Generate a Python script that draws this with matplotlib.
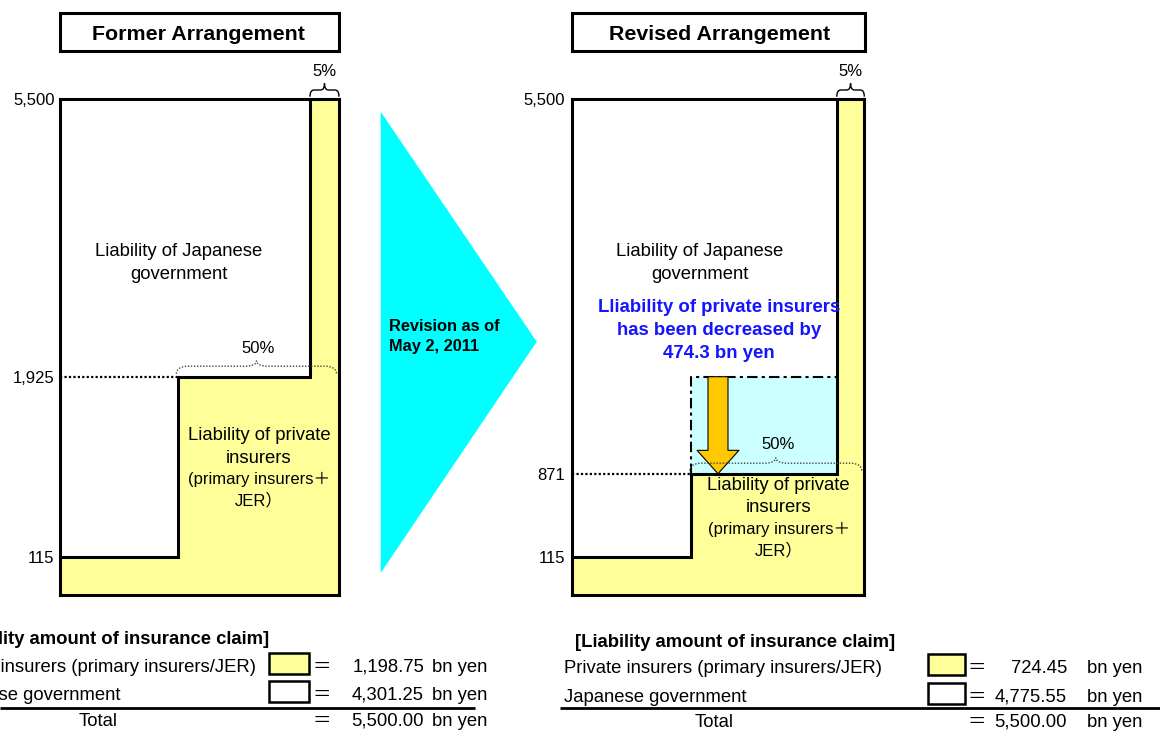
import numpy as np
import matplotlib
matplotlib.use("Agg")
import matplotlib.pyplot as plt
import matplotlib.transforms as mtrans
from matplotlib.patches import Rectangle, Polygon, PathPatch, FancyArrowPatch, ArrowStyle
from matplotlib.path import Path

# ---------------------------------------------------------------- data
panel_titles = ["Former Arrangement", "Revised Arrangement"]
total_limit = 5500                      # bn yen
former_levels = [115, 1925]             # claim thresholds (bn yen)
revised_levels = [115, 871]
private_shares = [1.00, 0.50, 0.05]     # private insurers' share in each band
share_labels = ["50%", "5%"]
legend_rows = ["Private insurers (primary insurers/JER)", "Japanese government"]
former_amounts = [1198.75, 4301.25]
revised_amounts = [724.45, 4775.55]
revision_note = ["Revision as of", "May 2, 2011"]
gov_label = ["Liability of Japanese", "government"]
private_label = ["Liability of private", "insurers"]
private_sub = ["(primary insurers\uff0b", "JER\uff09"]
table_title = "[Liability amount of insurance claim]"

# ---------------------------------------------------------------- style
YELLOW = "#FFFF99"
CYAN = "#00FFFF"
LIGHT_CYAN = "#CCFFFF"
ARROW = "#FFC800"
BLUE = "#1414FF"
FONT = ["Liberation Sans", "Noto Sans CJK JP", "DejaVu Sans"]
plt.rcParams["font.family"] = FONT

W, H = 1160, 731
fig = plt.figure(figsize=(W / 100, H / 100), dpi=100, facecolor="white")

# schematic (not to scale) placement of claim amounts and band boundaries
Y_VALUES = [0, 115, 871, 1925, 5500]
Y_POS = [0, 0.0778, 0.2452, 0.4407, 1.0]
U_VALUES = [0, 0.5, 0.95, 1.0]


def fwd_y(v):
    return np.interp(v, Y_VALUES, Y_POS)


def inv_y(p):
    return np.interp(p, Y_POS, Y_VALUES)


def make_panel(left_px, right_px, x_pos):
    top_px, bottom_px = 99.3, 595.3
    ax = fig.add_axes([left_px / W, (H - bottom_px) / H,
                       (right_px - left_px) / W, (bottom_px - top_px) / H])
    ax.set_xscale("function", functions=(lambda v: np.interp(v, U_VALUES, x_pos),
                                         lambda p: np.interp(p, x_pos, U_VALUES)))
    ax.set_yscale("function", functions=(fwd_y, inv_y))
    return ax


def draw_panel(ax, levels, pad):
    edges = [0] + list(levels) + [total_limit]
    u = [1 - s for s in private_shares]
    # private insurers' portion of each band
    for i, share in enumerate(private_shares):
        ax.barh(edges[i], share, left=u[i], height=edges[i + 1] - edges[i],
                align="edge", color=YELLOW, lw=0, zorder=1)
    # boundary between government and private liability
    pts = [(u[0], edges[1])]
    for i in range(1, len(u)):
        pts.append((u[i], edges[i]))
        pts.append((u[i], edges[i + 1]))
    xs, ys = zip(*pts)
    ax.plot(xs, ys, color="black", lw=2.2, solid_joinstyle="miter", zorder=3)
    ax.plot([0, u[1]], [edges[2], edges[2]], color="black", lw=1.6,
            ls=(0, (1, 1)), zorder=3)
    ax.set_xlim(0, 1)
    ax.set_ylim(0, total_limit)
    ticks = [edges[1], edges[2], total_limit]
    ax.set_yticks(ticks)
    ax.set_yticklabels([f"{t:,}" for t in ticks])
    ax.set_xticks([])
    ax.tick_params(axis="y", length=0, pad=pad, labelsize=12)
    for sp in ax.spines.values():
        sp.set_linewidth(2.2)
        sp.set_color("black")
        sp.set_zorder(5)
    ax.set_facecolor("white")
    return edges, u


ax_l = make_panel(60, 339, [0, 0.422, 0.896, 1.0])
ax_r = make_panel(571.7, 864.3, [0, 0.408, 0.906, 1.0])
edges_l, u_l = draw_panel(ax_l, former_levels, 4.0)
edges_r, u_r = draw_panel(ax_r, revised_levels, 4.8)

# band released from private insurers in the revised scheme
ax_r.fill_between([u_r[1], u_r[2]], revised_levels[1], former_levels[1],
                  color=LIGHT_CYAN, lw=0, zorder=0.5)
ax_r.plot([u_r[1], u_r[1], u_r[2]],
          [revised_levels[1], former_levels[1], former_levels[1]],
          color="black", lw=1.5, ls=(0, (5, 2, 1.5, 2)), zorder=3)
blend = mtrans.blended_transform_factory(ax_r.transAxes, ax_r.transData)
arrow = FancyArrowPatch((0.5, former_levels[1]), (0.5, revised_levels[1]),
                        transform=blend,
                        arrowstyle=ArrowStyle.Simple(head_length=16.8, head_width=30.2,
                                                     tail_width=14.4),
                        mutation_scale=1, shrinkA=0, shrinkB=0,
                        fc=ARROW, ec="black", lw=0.8, zorder=4)
ax_r.add_patch(arrow)

# ---------------------------------------------------------------- overlay (pixel units)
ov = fig.add_axes([0, 0, 1, 1], facecolor="none")
ov.set_xlim(0, W)
ov.set_ylim(H, 0)
ov.axis("off")


def px(ax, u, v):
    X, Y = ax.transData.transform((u, v))
    return X, H - Y


def brace(x0, x1, yb, yt, yp, r, **kw):
    xc = (x0 + x1) / 2
    verts = [(x0, yb), (x0, yt), (x0 + r, yt), (xc - r, yt), (xc, yt), (xc, yp),
             (xc, yt), (xc + r, yt), (x1 - r, yt), (x1, yt), (x1, yb)]
    codes = [Path.MOVETO, Path.CURVE3, Path.CURVE3, Path.LINETO, Path.CURVE3,
             Path.CURVE3, Path.CURVE3, Path.CURVE3, Path.LINETO, Path.CURVE3, Path.CURVE3]
    ov.add_patch(PathPatch(Path(verts, codes), fc="none", **kw))
    return xc


for ax, u, edges, dy50 in [(ax_l, u_l, edges_l, 7.4), (ax_r, u_r, edges_r, 8.3)]:
    # 5% brace above the top band
    x0, ytop = px(ax, u[2], total_limit)
    x1, _ = px(ax, 1.0, total_limit)
    yb = ytop - 2.6
    xc = brace(x0, x1, yb, yb - 6.7, yb - 13.4, 4, ec="black", lw=1.0)
    ov.text(xc, yb - 13.4 - 7.3, share_labels[1], ha="center", va="baseline", fontsize=12)
    # 50% brace above the middle band
    x0, ylev = px(ax, u[1], edges[2])
    x1, _ = px(ax, 1.0, edges[2])
    xc = brace(x0 - 1.3, x1 - 2.5, ylev - 3, ylev - 10.5, ylev - 16, 12,
               ec="#444444", lw=1.0, ls=(0, (1, 1.2)), zorder=4)
    ov.text(xc + 2, ylev - 16 - dy50, share_labels[0], ha="center", va="baseline",
            fontsize=12)

# panel titles
for (x0, x1, tx), title in zip([(59.8, 339.2, 198.9), (571.5, 865.2, 719.2)], panel_titles):
    ov.add_patch(Rectangle((x0, 13.2), x1 - x0, 37.6, fc="white", ec="black", lw=2.2))
    ov.text(tx, 39.5, title, ha="center", va="baseline", fontsize=15.4, fontweight="bold")

# revision arrow
ov.add_patch(Polygon([(380.7, 111.7), (380.7, 573), (536.7, 341.7)], closed=True,
                     fc=CYAN, ec="none"))
for yb, line in zip([330.7, 350.7], revision_note):
    ov.text(389.3, yb, line, ha="left", va="baseline", fontsize=11.8, fontweight="bold")

# area labels
for xc in (179, 700):
    for yb, line in zip([256, 279], gov_label):
        ov.text(xc, yb, line, ha="center", va="baseline", fontsize=13.3)
for xc, bases in [(259, [440, 462.7, 484, 505.7]), (778.7, [490, 511.7, 534, 555])]:
    for yb, line in zip(bases[:2], private_label):
        ov.text(xc, yb, line, ha="center", va="baseline", fontsize=13.3, zorder=6)
    for yb, line in zip(bases[2:], private_sub):
        ov.text(xc, yb, line, ha="center", va="baseline", fontsize=12, zorder=6)

reduction = former_amounts[0] - revised_amounts[0]
blue_lines = ["Lliability of private insurers", "has been decreased by",
              f"{reduction:.1f} bn yen"]
for yb, line in zip([312.3, 335, 358.3], blue_lines):
    ov.text(719, yb, line, ha="center", va="baseline", fontsize=13.4,
            fontweight="bold", color=BLUE)

# ---------------------------------------------------------------- summary tables
tables = [
    dict(amounts=former_amounts, title_x=-51, row_x=-61.5, bases=[644.5, 672, 699.5, 725.5],
         sw_x=269.3, sw_w=40, eq_x=321.7, num_x=424, unit_x=432.3, line=(0, 475),
         total_x=98.3),
    dict(amounts=revised_amounts, title_x=575, row_x=564, bases=[646.7, 673.3, 701.7, 726.7],
         sw_x=928.3, sw_w=36.7, eq_x=977, num_x=1067, unit_x=1087, line=(560, 1160),
         total_x=714),
]
swatch_fill = [YELLOW, "white"]
for t in tables:
    b = t["bases"]
    ov.text(t["title_x"], b[0], table_title, ha="left", va="baseline", fontsize=13.3,
            fontweight="bold")
    values = list(t["amounts"]) + [sum(t["amounts"])]
    for i, (label, val) in enumerate(zip(legend_rows + ["Total"], values)):
        yb = b[i + 1]
        if i < 2:
            ov.text(t["row_x"], yb, label, ha="left", va="baseline", fontsize=13.3)
            ov.add_patch(Rectangle((t["sw_x"], yb - 19), t["sw_w"], 21,
                                   fc=swatch_fill[i], ec="black", lw=1.8))
        else:
            ov.text(t["total_x"], yb, label, ha="center", va="baseline", fontsize=13.3)
        ov.text(t["eq_x"], yb, "\uff1d", ha="center", va="baseline", fontsize=13.3)
        ov.text(t["num_x"], yb, f"{val:,.2f}", ha="right", va="baseline", fontsize=13.3)
        ov.text(t["unit_x"], yb, "bn yen", ha="left", va="baseline", fontsize=13.3)
    ov.plot(t["line"], [708.3, 708.3], color="black", lw=2.0, solid_capstyle="butt")

fig.savefig("out.png", dpi=100, facecolor="white")
